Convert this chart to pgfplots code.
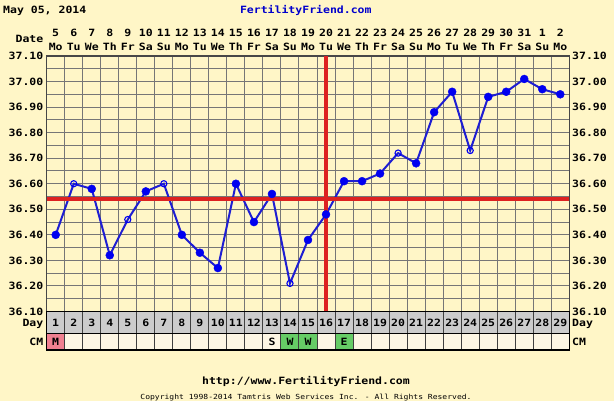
\documentclass[border=0pt]{standalone}
\usepackage{pgfplots}
\pgfplotsset{compat=1.18}
\usepackage{fontspec}
\setmainfont{DejaVu Sans Mono}[FakeStretch=1.15]
\newfontfamily\pixfont{DejaVu Sans Mono}[FakeStretch=1.15]
\definecolor{bgcol}{RGB}{255,246,199}
\definecolor{gridgray}{RGB}{118,118,118}
\definecolor{daygray}{RGB}{204,204,204}
\definecolor{cmcell}{RGB}{253,246,228}
\definecolor{cmpink}{RGB}{240,128,144}
\definecolor{cmgreen}{RGB}{102,204,102}
\definecolor{cvred}{RGB}{221,34,34}
\definecolor{lineblue}{RGB}{30,30,210}
\definecolor{markblue}{RGB}{0,0,240}
\definecolor{titleblue}{RGB}{0,0,204}
\begin{document}
\begin{tikzpicture}[
  lab/.style={font=\pixfont\bfseries\fontsize{10}{12}\selectfont, inner sep=0pt, text height=7.3pt, text depth=0pt},
  small/.style={font=\pixfont\fontsize{7}{8}\selectfont, inner sep=0pt, text height=5.1pt, text depth=0pt}]
\fill[bgcol] (0pt,0pt) rectangle (614pt,401pt);
\useasboundingbox (0pt,0pt) rectangle (614pt,401pt);
\begin{axis}[
  at={(46.7pt,89.5pt)}, anchor=south west,
  scale only axis, width=522.6pt, height=255.5pt,
  xmin=0.5, xmax=29.5, ymin=36.1, ymax=37.1,
  xtick={1.5,2.5,...,28.5}, ytick={36.15,36.2,...,37.06},
  xticklabels={}, yticklabels={},
  grid=major, major grid style={draw=gridgray, line width=1pt},
  major tick length=0pt,
  axis line style={draw=gridgray!60!black, line width=1.1pt},
  axis background/.style={fill=bgcol},
  clip=false]
\addplot[draw=lineblue, line width=2pt, mark=none] coordinates {
(1,36.40) (2,36.60) (3,36.58) (4,36.32) (5,36.46) (6,36.57) (7,36.60) (8,36.40)
(9,36.33) (10,36.27) (11,36.60) (12,36.45) (13,36.56) (14,36.21) (15,36.38)
(16,36.48) (17,36.61) (18,36.61) (19,36.64) (20,36.72) (21,36.68) (22,36.88)
(23,36.96) (24,36.73) (25,36.94) (26,36.96) (27,37.01) (28,36.97) (29,36.95)};
\addplot[draw=cvred, line width=3.2pt] coordinates {(0.5,36.54) (29.5,36.54)};
\addplot[draw=cvred, line width=3.2pt] coordinates {(16,36.10) (16,37.10)};
\addplot[only marks, mark=*, mark size=4pt, mark options={draw=markblue, fill=markblue}] coordinates {
(1,36.40) (3,36.58) (4,36.32) (6,36.57) (8,36.40) (9,36.33) (10,36.27) (11,36.60)
(12,36.45) (13,36.56) (15,36.38) (16,36.48) (17,36.61) (18,36.61) (19,36.64)
(21,36.68) (22,36.88) (23,36.96) (25,36.94) (26,36.96) (27,37.01) (28,36.97) (29,36.95)};
\addplot[only marks, mark=o, mark size=3.1pt, mark options={draw=markblue, fill=bgcol, line width=1.1pt}] coordinates {
(2,36.60) (5,36.46) (7,36.60) (14,36.21) (20,36.72) (24,36.73)};
\end{axis}
% table rows
\fill[daygray] (46.7pt,67.7pt) rectangle (569.3pt,89.5pt);
\fill[cmcell] (46.7pt,51pt) rectangle (569.3pt,67.7pt);
\fill[cmpink] (46.7pt,51pt) rectangle (64.72pt,67.7pt);
\foreach \dd in {14,15,17}{
  \pgfmathsetmacro\xa{46.7+(\dd-1)*18.021}
  \pgfmathsetmacro\xb{\xa+18.021}
  \fill[cmgreen] (\xa pt,51pt) rectangle (\xb pt,67.7pt);
}
\foreach \dd in {1,...,28}{
  \pgfmathsetmacro\xa{46.7+\dd*18.021}
  \draw[black!75, line width=1pt] (\xa pt,51pt) -- (\xa pt,89.5pt);
}
\draw[black, line width=1.1pt] (46.7pt,67.7pt) -- (569.3pt,67.7pt);
\draw[black, line width=1.1pt] (46.7pt,51pt) rectangle (569.3pt,89.5pt);
\foreach \dd in {1,...,29}{
  \pgfmathsetmacro\xc{46.7+(\dd-0.5)*18.021}
  \node[lab] at (\xc pt,78.6pt) {\dd};
}
\foreach \dd/\cmv in {1/M,13/S,14/W,15/W,17/E}{
  \pgfmathsetmacro\xc{46.7+(\dd-0.5)*18.021}
  \node[lab] at (\xc pt,59.3pt) {\cmv};
}
\node[lab, anchor=east] at (43.5pt,78.6pt) {Day};
\node[lab, anchor=west] at (572pt,78.6pt) {Day};
\node[lab, anchor=east] at (43.5pt,59.3pt) {CM};
\node[lab, anchor=west] at (572pt,59.3pt) {CM};
% y tick labels both sides
\foreach \ii/\lb in {0/36.10,1/36.20,2/36.30,3/36.40,4/36.50,5/36.60,6/36.70,7/36.80,8/36.90,9/37.00,10/37.10}{
  \pgfmathsetmacro\yy{89.5+\ii*25.55}
  \node[lab, anchor=east] at (43.5pt,\yy pt) {\lb};
  \node[lab, anchor=west] at (572pt,\yy pt) {\lb};
}
% header dates
\foreach \dd/\dtv/\wkv in {1/5/Mo,2/6/Tu,3/7/We,4/8/Th,5/9/Fr,6/10/Sa,7/11/Su,8/12/Mo,9/13/Tu,10/14/We,11/15/Th,12/16/Fr,13/17/Sa,14/18/Su,15/19/Mo,16/20/Tu,17/21/We,18/22/Th,19/23/Fr,20/24/Sa,21/25/Su,22/26/Mo,23/27/Tu,24/28/We,25/29/Th,26/30/Fr,27/31/Sa,28/1/Su,29/2/Mo}{
  \pgfmathsetmacro\xc{46.7+(\dd-0.5)*18.021}
  \node[lab] at (\xc pt,368pt) {\dtv};
  \node[lab] at (\xc pt,354.5pt) {\wkv};
}
\node[lab, anchor=east] at (43.5pt,362pt) {Date};
\node[lab, anchor=west] at (3pt,391pt) {May 05, 2014};
\node[lab, text=titleblue] at (305.8pt,391pt) {FertilityFriend.com};
\node[lab] at (306pt,20pt) {http://www.FertilityFriend.com};
\node[small] at (306pt,4.5pt) {Copyright 1998-2014 Tamtris Web Services Inc. - All Rights Reserved.};
\end{tikzpicture}
\end{document}
